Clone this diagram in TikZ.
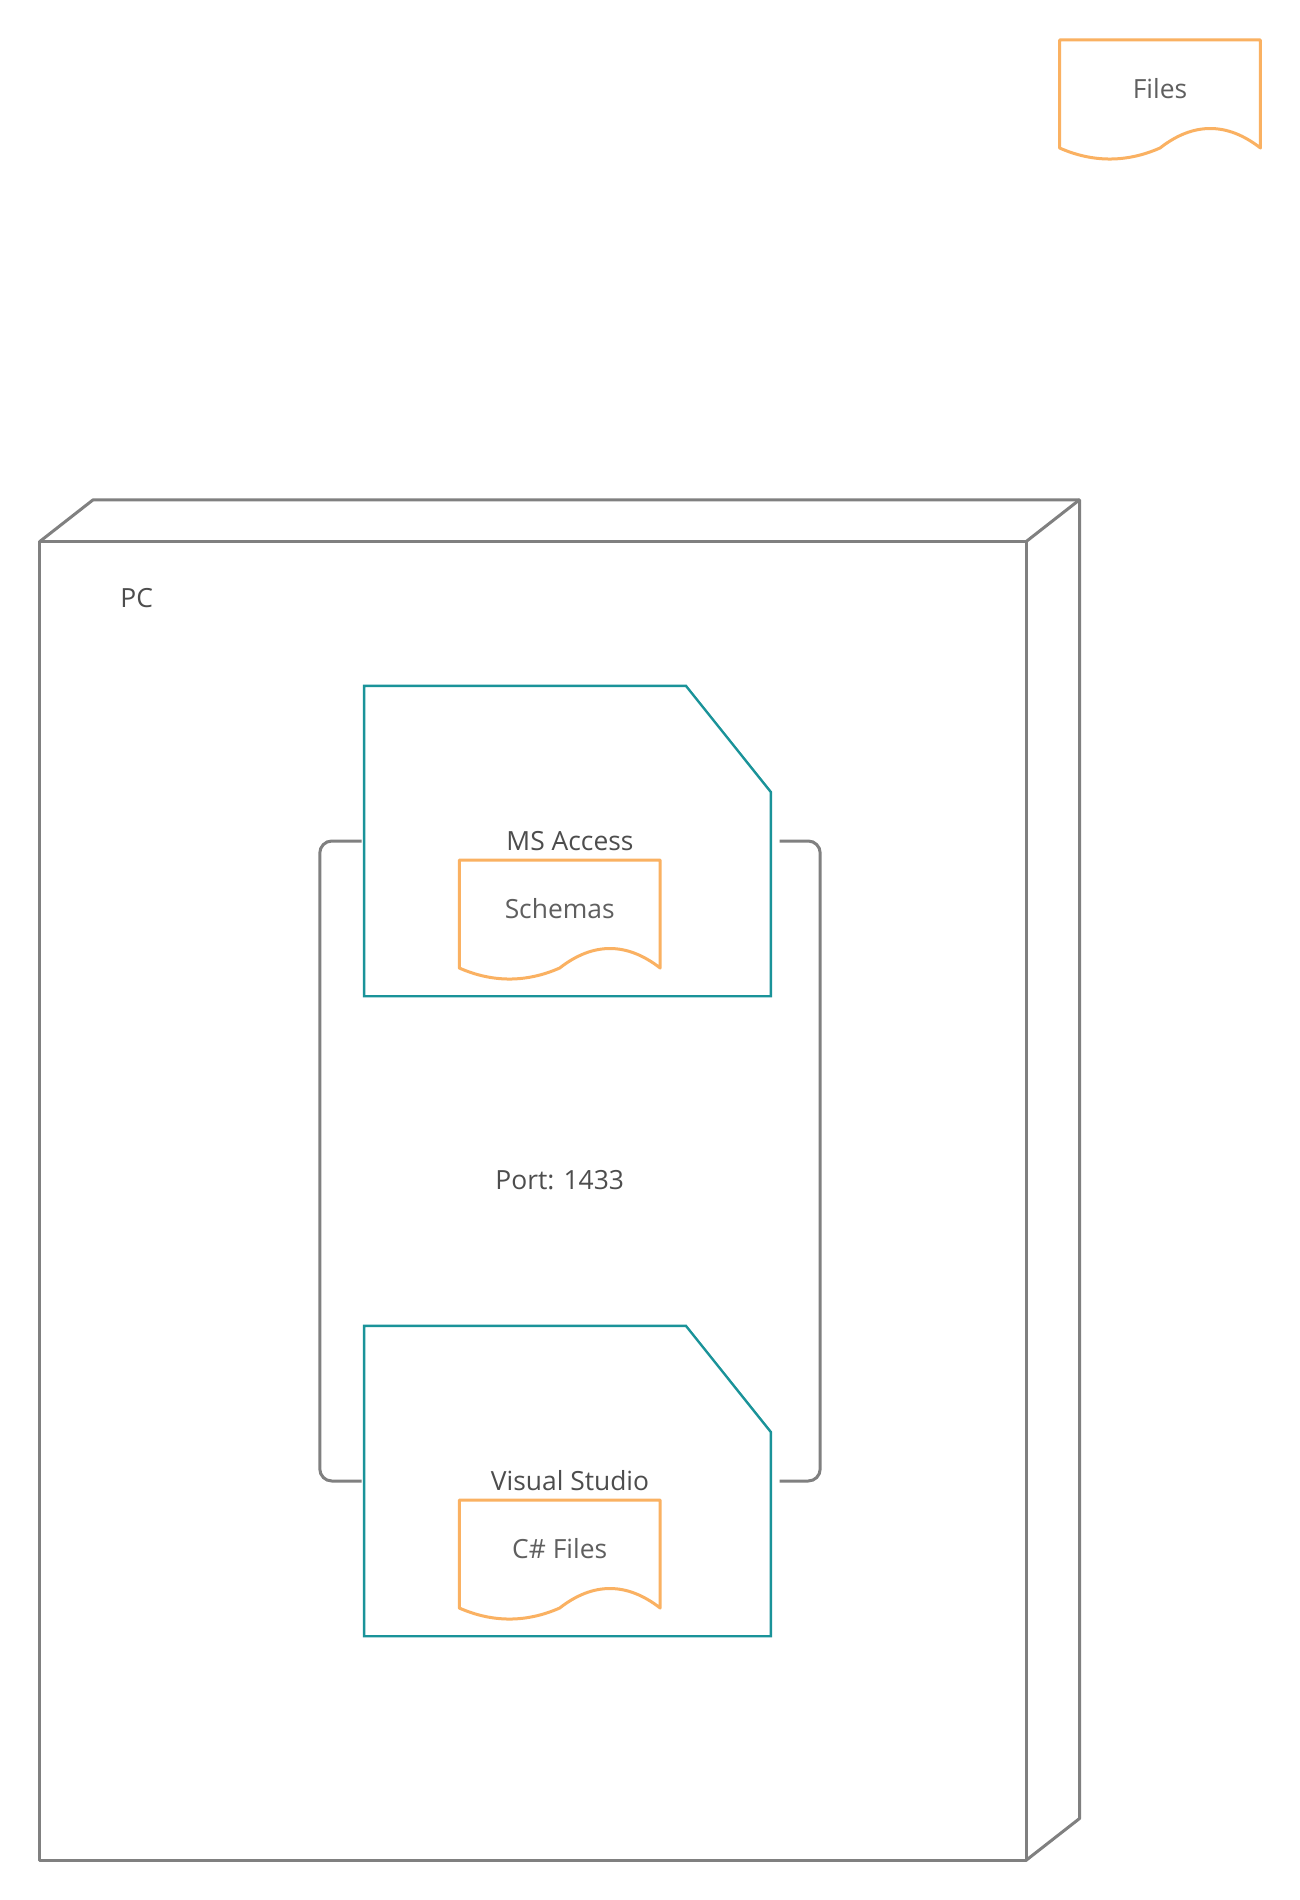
\documentclass[tikz,border=0pt]{standalone}
\usepackage{fontspec}
\setmainfont{Open Sans}
\usetikzlibrary{calc}
\definecolor{pcgray}{HTML}{808080}
\definecolor{teal1}{HTML}{1A9399}
\definecolor{orng}{HTML}{FAB162}
\definecolor{txtdark}{HTML}{4D4D4D}
\definecolor{txtdoc}{HTML}{5F5F5F}
\tikzset{
  lbl/.style={inner sep=0pt, text=txtdark, font=\fontsize{26.4}{32}\selectfont},
  docnode/.style={draw=none, inner sep=0pt, minimum width=200.5pt, minimum height=97pt, anchor=north, text=txtdoc, font=\fontsize{26.4}{32}\selectfont},
  docline/.style={draw=orng, line width=3pt, line join=round, fill=white},
  compnode/.style={draw=none, inner sep=0pt, minimum width=406.4pt, minimum height=310pt, text=txtdark, font=\fontsize{26.4}{32}\selectfont},
  compline/.style={draw=teal1, line width=2.4pt, fill=white},
  pcline/.style={draw=pcgray, line width=3pt, line join=round},
  conn/.style={draw=pcgray, line width=3pt, rounded corners=12pt},
}
\newcommand\mydoc[4]{%
  \node[docnode] (#1) at (#2,#3) {};
  \path[docline] (#1.north west) -- (#1.north east) -- ($(#1.north east)+(0,108)$)
    .. controls ($(#1.north east)+(-33.4,82)$) and ($(#1.north)+(33.4,82)$) .. ($(#1.north)+(0,108)$)
    .. controls ($(#1.north)+(-33.4,122.7)$) and ($(#1.north west)+(33.4,122.7)$) .. ($(#1.north west)+(0,108)$) -- cycle;
  \node[docnode] at (#1.north) {#4};
}
\newcommand\mycomp[3]{%
  \node[compnode] (#1) at (567.5,#2) {};
  \path[compline] (#1.north west) -- ($(#1.north east)+(-85,0)$) -- ($(#1.north east)+(0,106.3)$)
    -- (#1.south east) -- (#1.south west) -- cycle;
  \node[lbl] (#1lbl) at ($(#1.center)+(2.5,0)$) {#3};
}
\begin{document}
\begin{tikzpicture}[x=1pt,y=-1pt]
\useasboundingbox (0,0) rectangle (1300,1900);
\fill[white] (0,0) rectangle (1300,1900);

% Files document (top right)
\mydoc{files}{1160}{40}{Files}

% PC node (3D box)
\node[draw=none, inner sep=0pt, minimum width=986pt, minimum height=1318.3pt] (pc) at (533,1200.85) {};
\draw[pcline] (pc.north west) -- ++(53.3,-41.7) -- ($(pc.north east)+(53.3,-41.7)$) -- ($(pc.south east)+(53.3,-41.7)$) -- (pc.south east);
\draw[pcline] ($(pc.north east)+(53.3,-41.7)$) -- (pc.north east);
\draw[pcline] (pc.north west) rectangle (pc.south east);
\node[lbl] (pclabel) at (136.7,598) {PC};

% Components
\mycomp{ms}{841}{MS Access}
\mydoc{schemas}{559.7}{860}{Schemas}
\mycomp{vs}{1481}{Visual Studio}
\mydoc{csfiles}{559.7}{1500}{C\# Files}

% Connectors
\draw[conn] ([xshift=-2.6pt]ms.west) -- ++(-41.7,0) |- ([xshift=-2.6pt]vs.west);
\draw[conn] ([xshift=8.6pt]ms.east) -- ++(40.7,0) |- ([xshift=8.6pt]vs.east);
\node[lbl] (port) at (559.7,1180) {Port: 1433};
\end{tikzpicture}
\end{document}
